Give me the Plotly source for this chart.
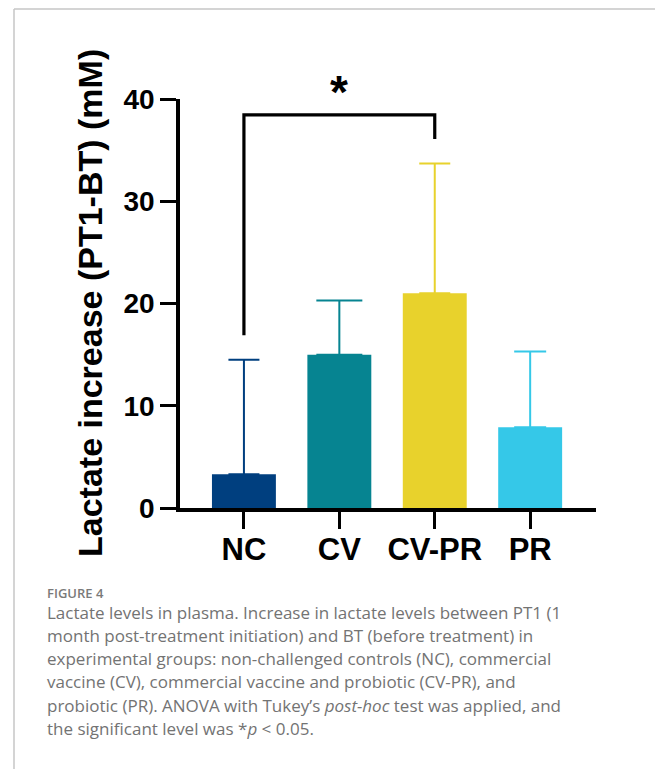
import plotly.graph_objects as go

# ---- data ----
categories = ["NC", "CV", "CV-PR", "PR"]
means = [3.3, 15.0, 21.0, 7.9]
sd_upper = [11.2, 5.3, 12.7, 7.4]
bar_colors = ["#003f7f", "#068491", "#e8d22c", "#35c8e8"]
cap_halfwidths = [15.5, 23, 15.5, 16]
y_ticks = [0, 10, 20, 30, 40]
y_title = "Lactate increase (PT1-BT) (mM)"
sig_pair = (0, 2)          # NC vs CV-PR
sig_levels = (16.9, 38.45, 36.1)  # left leg bottom, bracket top, right leg bottom
sig_label = "*"
caption_head = "FIGURE 4"
caption_lines = [
    "Lactate levels in plasma. Increase in lactate levels between PT1 (1",
    "month post-treatment initiation) and BT (before treatment) in",
    "experimental groups: non-challenged controls (NC), commercial",
    "vaccine (CV), commercial vaccine and probiotic (CV-PR), and",
    "probiotic (PR). ANOVA with Tukey’s <i>post-hoc</i> test was applied, and",
    "the significant level was *<i>p</i> &lt; 0.05.",
]

# ---- layout geometry (pixels) ----
W, H = 655, 769
L, R, T, B = 180, 59, 99, 261
pw, ph = W - L - R, H - T - B


def px(x):
    return (x - L) / pw


def py(y):
    return (H - B - y) / ph


FONT = "Liberation Sans, Arial, sans-serif"
xpos = list(range(len(categories)))

fig = go.Figure()
for i, cat in enumerate(categories):
    fig.add_trace(go.Bar(
        x=[xpos[i]], y=[means[i]], name=cat,
        marker=dict(color=bar_colors[i], line=dict(width=0)),
        width=0.67,
        error_y=dict(type="data", symmetric=False, array=[sd_upper[i]],
                     arrayminus=[0], color=bar_colors[i], thickness=2,
                     width=cap_halfwidths[i]),
        showlegend=False,
    ))

# significance bracket
x0, x1 = sig_pair
yl, yt, yr = sig_levels
fig.add_shape(type="path",
              path=f"M {x0},{yl} L {x0},{yt} L {x1},{yt} L {x1},{yr}",
              xref="x", yref="y", line=dict(color="black", width=3.2))
fig.add_annotation(x=(x0 + x1) / 2, y=yt, xref="x", yref="y", text=sig_label,
                   showarrow=False, yanchor="bottom", yshift=-5,
                   font=dict(family=FONT, size=46, color="black", weight="bold"))

# y-axis title
fig.add_annotation(x=px(90), y=py(303), xref="paper", yref="paper",
                   text=y_title, textangle=-90, showarrow=False,
                   xanchor="center", yanchor="middle",
                   font=dict(family=FONT, size=34, color="black", weight="bold"))

# caption
fig.add_annotation(x=px(45), y=py(593), xref="paper", yref="paper",
                   text=caption_head, showarrow=False, xanchor="left", yanchor="middle",
                   font=dict(family="Open Sans, sans-serif", size=13, color="#7a7a7a",
                             weight=600))
for k, line in enumerate(caption_lines):
    fig.add_annotation(x=px(45), y=py(612 + 23.3 * k), xref="paper", yref="paper",
                       text=line, showarrow=False, xanchor="left", yanchor="middle",
                       font=dict(family="Open Sans, sans-serif", size=17, color="#737373"))

# frame lines
fig.add_shape(type="line", xref="paper", yref="paper", x0=px(14), x1=px(W + 5),
              y0=py(9), y1=py(9), line=dict(color="#c6c6c6", width=1.5))
fig.add_shape(type="line", xref="paper", yref="paper", x0=px(14), x1=px(14),
              y0=py(9), y1=py(H + 5), line=dict(color="#c6c6c6", width=1.5))

fig.update_layout(
    width=W, height=H,
    margin=dict(l=L, r=R, t=T, b=B, pad=0),
    paper_bgcolor="white", plot_bgcolor="white",
    bargap=0.33,
    font=dict(family=FONT, color="black"),
    xaxis=dict(range=[-0.67, 3.69], tickvals=xpos, ticktext=categories,
               showline=True, linewidth=3.5, linecolor="black",
               ticks="outside", ticklen=17, tickwidth=3, tickcolor="black",
               ticklabelstandoff=-6,
               showgrid=False, zeroline=False, fixedrange=True,
               tickfont=dict(family=FONT, size=31, color="black", weight="bold")),
    yaxis=dict(range=[0, 40], tickvals=y_ticks,
               showline=True, linewidth=3.5, linecolor="black",
               ticks="outside", ticklen=16, tickwidth=3, tickcolor="black",
               showgrid=False, zeroline=False, fixedrange=True,
               tickfont=dict(family=FONT, size=28, color="black", weight="bold")),
)

fig.write_html("out.html", config={"displayModeBar": False},
               post_script="document.body.style.margin='0';")
